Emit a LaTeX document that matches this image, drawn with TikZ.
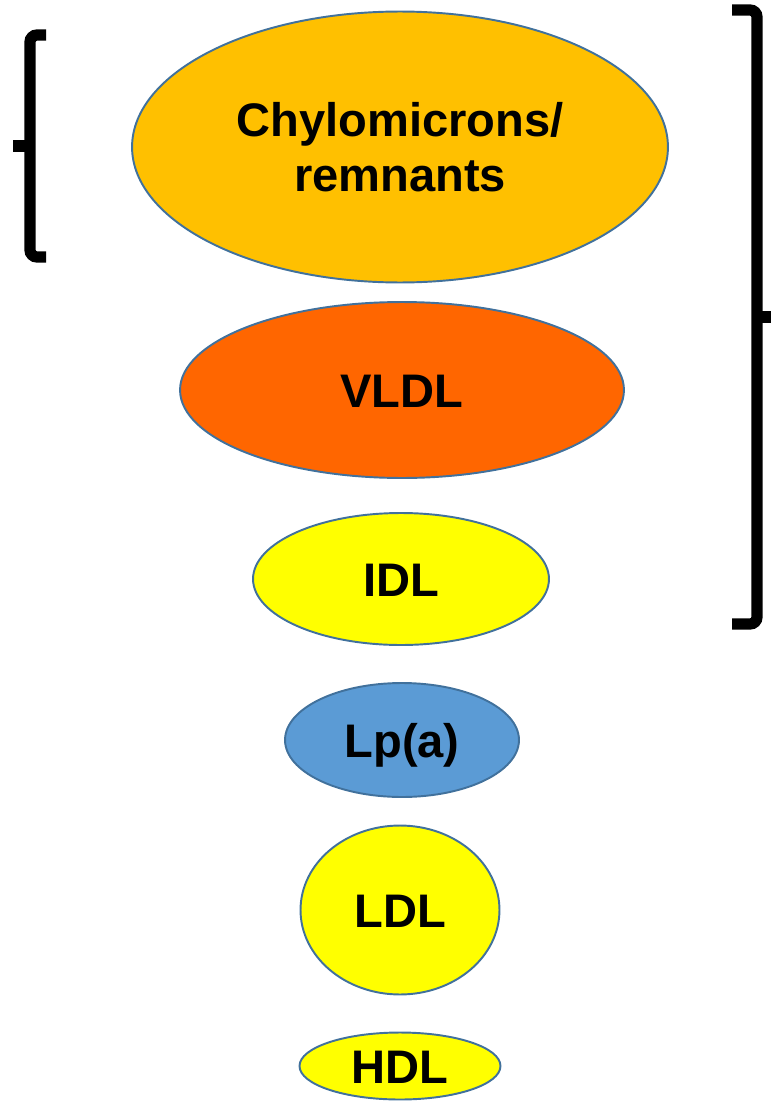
\documentclass[tikz,border=0pt]{standalone}
\usepackage{fontspec}
\setmainfont{Liberation Sans}
\usetikzlibrary{shapes.geometric}
\definecolor{chyloorange}{HTML}{FFC000}
\definecolor{vldlorange}{HTML}{FF6600}
\definecolor{lpyellow}{HTML}{FFFF00}
\definecolor{lpblue}{HTML}{5B9BD5}
\definecolor{rimblue}{HTML}{41719C}
\begin{document}
\begin{tikzpicture}[x=0.02cm,y=-0.02cm,
    lipo/.style={ellipse,draw=rimblue,line width=1.1pt,inner sep=0pt,
      font=\fontsize{26.8}{31.5}\selectfont\bfseries,align=center},
    onerow/.style={text height=0.68cm,text depth=0cm},
    bracket/.style={line width=6.4pt,rounded corners=4pt}]
    \useasboundingbox (0,0) rectangle (771,1105);
    \node[lipo,fill=chyloorange,minimum width=10.72cm,minimum height=5.42cm] (chylo) at (400,147) {Chylomicrons/\\remnants};
    \node[lipo,onerow,fill=vldlorange,minimum width=8.88cm,minimum height=3.52cm] (vldl) at (402,390) {VLDL};
    \node[lipo,onerow,fill=lpyellow,minimum width=5.92cm,minimum height=2.64cm] (idl) at (401,579) {IDL};
    \node[lipo,onerow,fill=lpblue,minimum width=4.68cm,minimum height=2.28cm] (lpa) at (402,740) {Lp(a)};
    \node[lipo,onerow,fill=lpyellow,minimum width=3.98cm,minimum height=3.38cm] (ldl) at (400,910) {LDL};
    \node[lipo,onerow,fill=lpyellow,minimum width=4.02cm,minimum height=1.34cm] (hdl) at (400,1066) {HDL};
    % brackets
    \draw[bracket] (46,35) -- (30,35) -- (30,257) -- (46,257);
    \draw[line width=6.4pt] (30,146) -- (13,146);
    \draw[bracket] (732,10) -- (757,10) -- (757,624) -- (732,624);
    \draw[line width=6.4pt] (757,317) -- (771,317);
\end{tikzpicture}
\end{document}
